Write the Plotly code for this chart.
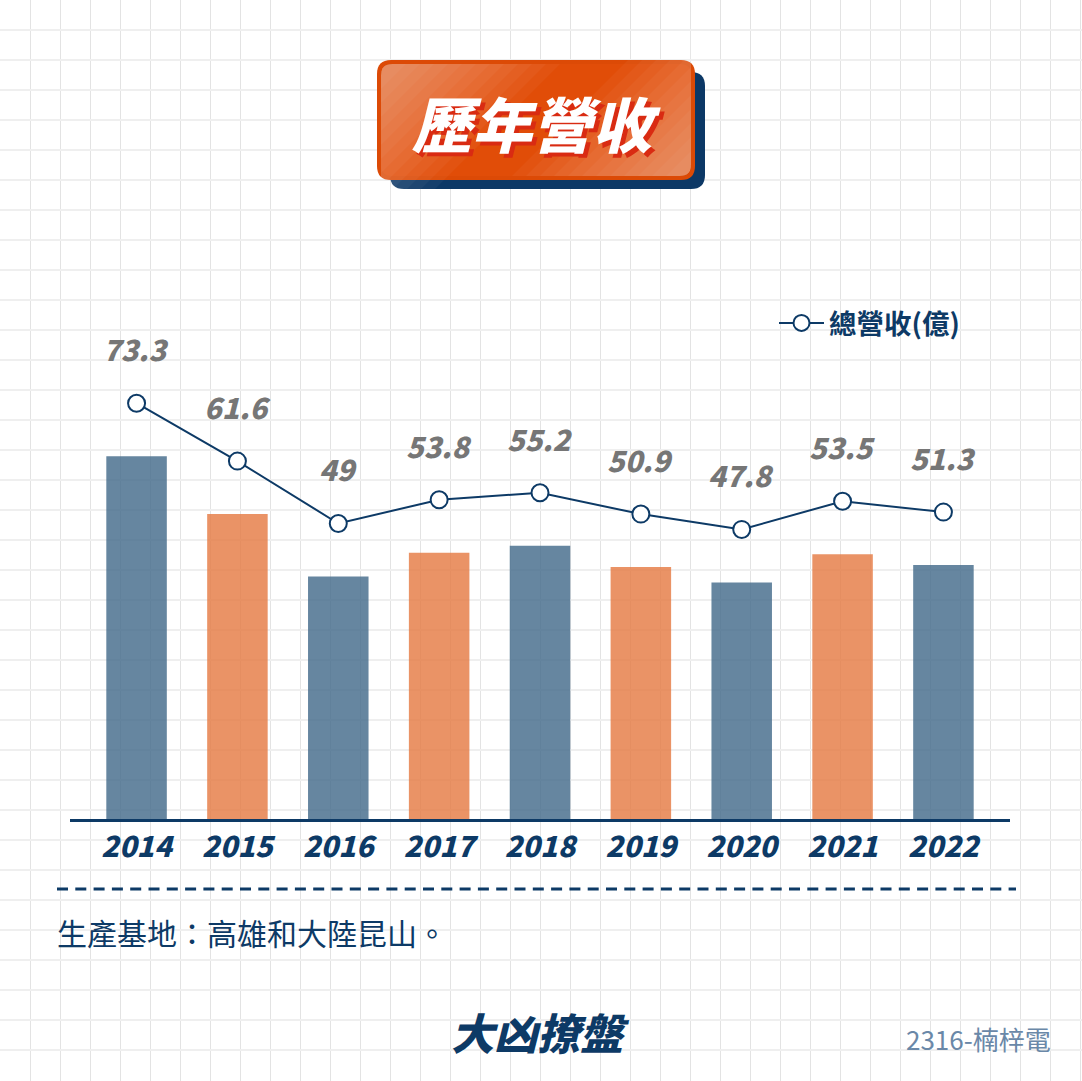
import plotly.graph_objects as go

W, H = 1082, 1081

# ---------------- data ----------------
years = ["2014", "2015", "2016", "2017", "2018", "2019", "2020", "2021", "2022"]
revenue = [73.3, 61.6, 49, 53.8, 55.2, 50.9, 47.8, 53.5, 51.3]
revenue_labels = ["73.3", "61.6", "49", "53.8", "55.2", "50.9", "47.8", "53.5", "51.3"]
bar_colors = ["rgba(64,104,136,0.8)", "rgba(229,120,64,0.8)"] * 5
bar_colors = bar_colors[:len(years)]

title_text = "歷年營收"
legend_name = "總營收(億)"
footnote = "生產基地：高雄和大陸昆山。"
logo_text = "大凶撩盤"
ticker_text = "2316-楠梓電"

NAVY = "#0d3a66"
CJK = "Noto Sans CJK TC"

# ---------------- layout helpers (pixel -> paper) ----------------
def X(px):
    return px / W

def Y(py):
    return 1 - py / H

def pt(px, py):
    return f"{X(px):.5f},{Y(py):.5f}"

def rrect(x0, y0, x1, y1, r):
    return (f"M{pt(x0 + r, y0)} L{pt(x1 - r, y0)} Q{pt(x1, y0)} {pt(x1, y0 + r)} "
            f"L{pt(x1, y1 - r)} Q{pt(x1, y1)} {pt(x1 - r, y1)} "
            f"L{pt(x0 + r, y1)} Q{pt(x0, y1)} {pt(x0, y1 - r)} "
            f"L{pt(x0, y0 + r)} Q{pt(x0, y0)} {pt(x0 + r, y0)} Z")

def corner_tl(x0, y0, r, a):
    return f"M{pt(x0, y0 + r)} Q{pt(x0, y0)} {pt(x0 + r, y0)} L{pt(x0 + a, y0)} L{pt(x0, y0 + a)} Z"

def corner_br(x1, y1, r, a):
    return f"M{pt(x1, y1 - r)} Q{pt(x1, y1)} {pt(x1 - r, y1)} L{pt(x1 - a, y1)} L{pt(x1, y1 - a)} Z"

# plot geometry
PL, PR, PT, PB = 70, 1010, 260, 819
PX_PER_UNIT = 4.95
plot_h = PB - PT
y2_range = [0, plot_h / PX_PER_UNIT]
line_offset = 10.7
y3_range = [-line_offset, plot_h / PX_PER_UNIT - line_offset]

fig = go.Figure()

# background grid subplot (pixel coordinates)
fig.add_trace(go.Scatter(x=[0], y=[0], mode="markers", marker=dict(opacity=0),
                         xaxis="x", yaxis="y", showlegend=False, hoverinfo="skip"))

fig.add_trace(go.Bar(
    x=years, y=revenue, marker=dict(color=bar_colors, line=dict(width=0)),
    width=0.6, xaxis="x2", yaxis="y2", showlegend=False,
))

fig.add_trace(go.Scatter(
    x=years, y=revenue, mode="lines+markers", name=legend_name,
    line=dict(color=NAVY, width=2),
    marker=dict(size=17, color="white", line=dict(color=NAVY, width=2)),
    xaxis="x2", yaxis="y3", showlegend=True,
))

annotations = []
for i, (v, lab) in enumerate(zip(revenue, revenue_labels)):
    annotations.append(dict(
        x=i, y=v, xref="x2", yref="y3", text=lab, showarrow=False,
        yshift=55, font=dict(family=CJK, size=29, color="#767676", weight=900, style="italic"),
    ))

# title text with offset red shadow
annotations.append(dict(
    x=X(536), y=Y(122), xref="paper", yref="paper", text=title_text,
    showarrow=False, xanchor="center", yanchor="middle",
    font=dict(family=CJK, size=60, color="white", weight=900, style="italic",
              shadow="4px 4px 0px #d92b12"),
))

annotations.append(dict(
    x=X(55), y=Y(932), xref="paper", yref="paper", text=footnote, showarrow=False,
    xanchor="left", yanchor="middle", font=dict(family=CJK, size=30, color=NAVY),
))
annotations.append(dict(
    x=X(540), y=Y(1031), xref="paper", yref="paper", text=logo_text, showarrow=False,
    xanchor="center", yanchor="middle",
    font=dict(family=CJK, size=43, color=NAVY, weight=900, style="italic"),
))
annotations.append(dict(
    x=X(1053), y=Y(1038), xref="paper", yref="paper", text=ticker_text, showarrow=False,
    xanchor="right", yanchor="middle", font=dict(family=CJK, size=26, color="#6a88a8"),
))

shapes = []
# title box shadow
shapes.append(dict(type="path", xref="paper", yref="paper", path=rrect(390, 72, 705, 189, 14),
                   fillcolor="#0c3866", line=dict(width=0), layer="above"))
# title box
shapes.append(dict(type="path", xref="paper", yref="paper", path=rrect(377, 60, 695, 180, 14),
                   fillcolor="#dc4a06", line=dict(width=0), layer="above"))
shapes.append(dict(type="path", xref="paper", yref="paper", path=rrect(381, 64, 691, 176, 11),
                   fillcolor="#e14d08", line=dict(width=0), layer="above"))
for a in range(25, 190, 14):
    shapes.append(dict(type="path", xref="paper", yref="paper", path=corner_tl(381, 64, 11, a),
                       fillcolor="rgba(255,255,255,0.04)", line=dict(width=0), layer="above"))
    shapes.append(dict(type="path", xref="paper", yref="paper", path=corner_br(691, 176, 11, a),
                       fillcolor="rgba(255,255,255,0.04)", line=dict(width=0), layer="above"))
# dashed separator
shapes.append(dict(type="line", xref="paper", yref="paper", x0=X(57), x1=X(1016), y0=Y(889), y1=Y(889),
                   line=dict(color=NAVY, width=3, dash="11px,7.3px")))

fig.update_layout(
    width=W, height=H, margin=dict(l=0, r=0, t=0, b=0, pad=0),
    paper_bgcolor="white", plot_bgcolor="rgba(0,0,0,0)",
    xaxis=dict(domain=[0, 1], range=[0, W], tick0=0, dtick=30, showgrid=True,
               gridcolor="#e3e3e3", gridwidth=1, zeroline=False, showticklabels=False,
               fixedrange=True),
    yaxis=dict(domain=[0, 1], range=[H, 0], tick0=0, dtick=30, showgrid=True,
               gridcolor="#efefef", gridwidth=2, zeroline=False, showticklabels=False,
               fixedrange=True),
    xaxis2=dict(domain=[X(PL), X(PR)], anchor="y2", range=[-0.66, 8.66], type="category",
                showgrid=False, showline=True, linecolor=NAVY, linewidth=3, ticks="",
                tickfont=dict(family=CJK, size=29, color=NAVY, weight=900, style="italic")),
    yaxis2=dict(domain=[Y(PB), Y(PT)], anchor="x2", range=y2_range, showgrid=False,
                zeroline=False, showticklabels=False, showline=False),
    yaxis3=dict(overlaying="y2", anchor="x2", range=y3_range, showgrid=False,
                zeroline=False, showticklabels=False, showline=False),
    bargap=0.4,
    showlegend=True,
    legend=dict(x=X(774), y=Y(323), xanchor="left", yanchor="middle", bgcolor="rgba(0,0,0,0)",
                itemwidth=45, font=dict(family=CJK, size=27.5, color=NAVY, weight=700)),
    annotations=annotations,
    shapes=shapes,
)

fig.write_html("out.html")
